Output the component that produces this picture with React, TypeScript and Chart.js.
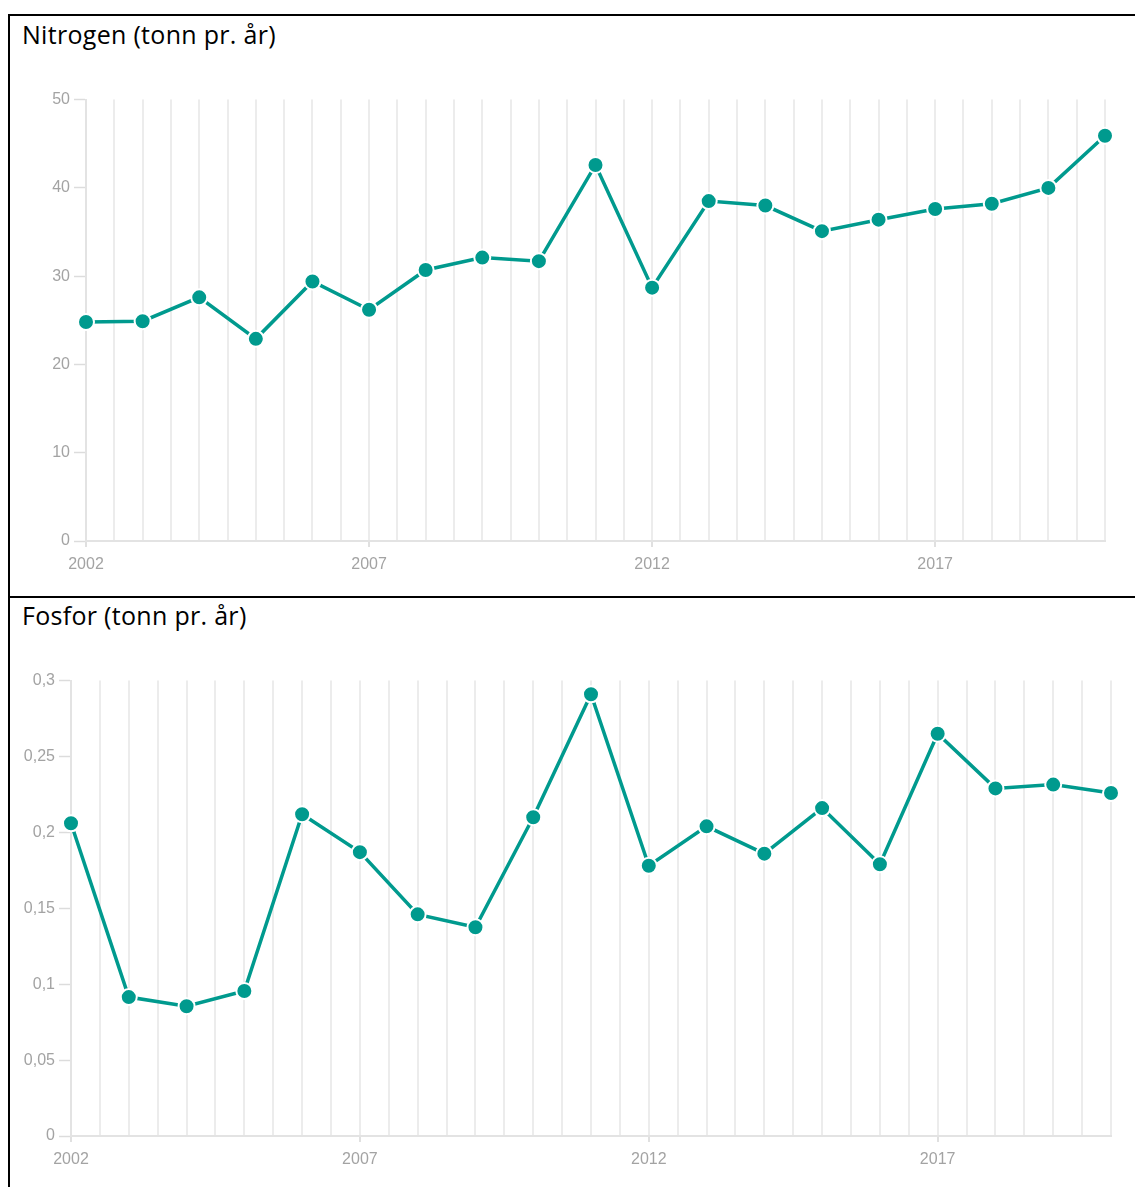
import React, { useEffect, useRef } from 'react';
import { Chart, registerables } from 'chart.js';

Chart.register(...registerables);

const years = [2002, 2003, 2004, 2005, 2006, 2007, 2008, 2009, 2010, 2011, 2012, 2013, 2014, 2015, 2016, 2017, 2018, 2019, 2020];
const nitrogenValues = [24.8, 24.9, 27.6, 22.9, 29.4, 26.2, 30.7, 32.1, 31.7, 42.6, 28.7, 38.5, 38.0, 35.1, 36.4, 37.6, 38.2, 40.0, 45.9];
const fosforValues = [0.206, 0.0915, 0.0855, 0.0955, 0.212, 0.187, 0.146, 0.1375, 0.21, 0.291, 0.178, 0.204, 0.186, 0.216, 0.179, 0.265, 0.229, 0.2315, 0.226];
const labeledYears = [2002, 2007, 2012, 2017];
const nitrogenTitle = 'Nitrogen (tonn pr. år)';
const fosforTitle = 'Fosfor (tonn pr. år)';

const TEAL = '#009a8e';
const TICK_TEXT = '#a3a3a3';
const AXIS = '#e3e3e3';
const GRID = '#ececec';

type ChartProps = {
  values: number[];
  yMax: number;
  yStep: number;
  width: number;
  height: number;
  yAxisWidth: number;
  xAxisHeight: number;
  padTop: number;
  padRight: number;
};

function LineChart(props: ChartProps) {
  const ref = useRef<HTMLCanvasElement | null>(null);
  useEffect(() => {
    if (!ref.current) return;
    const fmt = (v: number) => String(Number(v.toFixed(3))).replace('.', ',');
    const chart = new Chart(ref.current, {
      type: 'line',
      data: {
        datasets: [
          {
            data: years.map((y, i) => ({ x: y, y: props.values[i] })),
            borderColor: TEAL,
            backgroundColor: TEAL,
            borderWidth: 3.5,
            pointRadius: 8,
            pointBorderColor: '#ffffff',
            pointBorderWidth: 2,
            pointBackgroundColor: TEAL,
            tension: 0,
            clip: false as any,
          },
        ],
      },
      options: {
        animation: false,
        responsive: false,
        maintainAspectRatio: false,
        layout: { padding: { top: props.padTop, right: props.padRight, left: 0, bottom: 0 } },
        plugins: { legend: { display: false }, tooltip: { enabled: false } },
        scales: {
          x: {
            type: 'linear',
            min: years[0],
            max: years[years.length - 1],
            afterFit: (s: any) => {
              s.height = props.xAxisHeight;
            },
            ticks: {
              stepSize: 0.5,
              autoSkip: false,
              maxRotation: 0,
              padding: 8,
              color: TICK_TEXT,
              font: { family: 'Liberation Sans', size: 16 },
              callback: (v: any) => (labeledYears.includes(Number(v)) ? String(v) : ''),
            },
            grid: {
              color: GRID,
              lineWidth: 2,
              drawTicks: true,
              tickLength: 6,
              tickWidth: 1.5,
              tickColor: (ctx: any) =>
                ctx.tick && labeledYears.includes(Number(ctx.tick.value)) ? '#d6d6d6' : 'rgba(0,0,0,0)',
            },
            border: { display: true, color: AXIS, width: 2 },
          },
          y: {
            type: 'linear',
            min: 0,
            max: props.yMax,
            afterFit: (s: any) => {
              s.width = props.yAxisWidth;
            },
            ticks: {
              stepSize: props.yStep,
              padding: 4,
              color: TICK_TEXT,
              font: { family: 'Liberation Sans', size: 16 },
              callback: (v: any) => fmt(Number(v)),
            },
            grid: {
              drawOnChartArea: false,
              drawTicks: true,
              tickLength: 12,
              tickWidth: 1.5,
              tickColor: '#dcdcdc',
            },
            border: { display: true, color: AXIS, width: 2 },
          },
        },
      },
    });
    return () => chart.destroy();
  }, []);
  return (
    <canvas
      ref={ref}
      width={props.width}
      height={props.height}
      style={{ width: props.width, height: props.height, display: 'block' }}
    />
  );
}

const titleStyle: React.CSSProperties = {
  position: 'absolute',
  left: 14,
  fontFamily: "'Open Sans', sans-serif",
  fontSize: 25,
  letterSpacing: 0.3,
  lineHeight: '30px',
  color: '#000',
  whiteSpace: 'nowrap',
};

export default function App() {
  return (
    <div style={{ position: 'relative', width: 1135, height: 1179, overflow: 'hidden', background: '#fff' }}>
      <div
        style={{
          position: 'absolute',
          left: 0,
          top: 6,
          width: 1140,
          height: 1300,
          border: '2px solid #000',
          boxSizing: 'border-box',
        }}
      />
      <div style={{ position: 'absolute', left: 0, top: 588, width: 1140, height: 2, background: '#000' }} />
      <div style={{ ...titleStyle, top: 11 }}>{nitrogenTitle}</div>
      <div style={{ ...titleStyle, top: 592 }}>{fosforTitle}</div>
      <div style={{ position: 'absolute', left: 14, top: 78 }}>
        <LineChart
          values={nitrogenValues}
          yMax={50}
          yStep={10}
          width={1100}
          height={493}
          yAxisWidth={64}
          xAxisHeight={38}
          padTop={10}
          padRight={17}
        />
      </div>
      <div style={{ position: 'absolute', left: 14, top: 659 }}>
        <LineChart
          values={fosforValues}
          yMax={0.3}
          yStep={0.05}
          width={1106}
          height={512}
          yAxisWidth={49}
          xAxisHeight={43}
          padTop={10}
          padRight={17}
        />
      </div>
    </div>
  );
}
